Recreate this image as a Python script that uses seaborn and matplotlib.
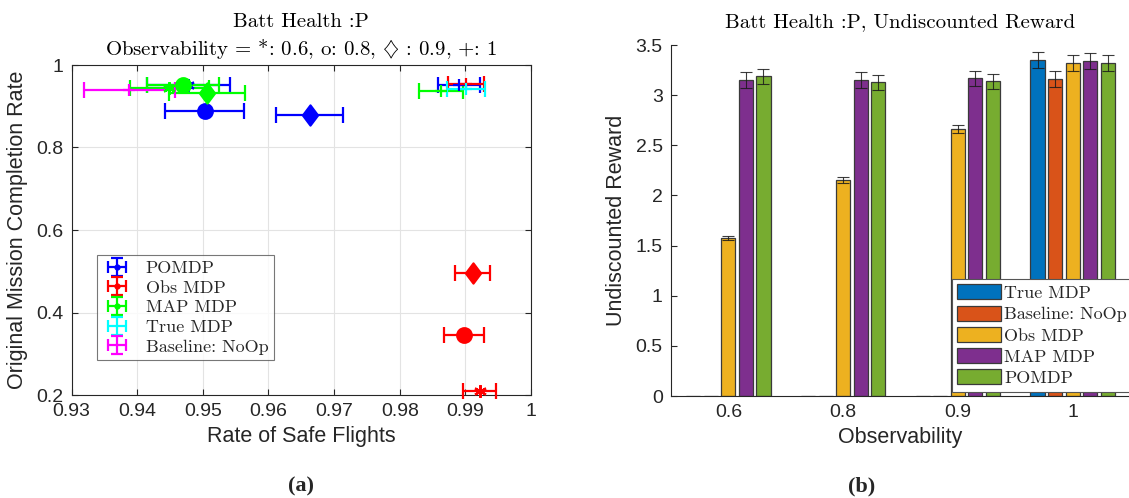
import numpy as np
import pandas as pd
import matplotlib
matplotlib.use("Agg")
import matplotlib.pyplot as plt
from matplotlib.path import Path
import seaborn as sns

# ---------------- data: left panel (a) ----------------
methods_a = ["POMDP", "Obs MDP", "MAP MDP", "True MDP", "Baseline: NoOp"]
colors_a = ["#0000FF", "#FF0000", "#00FF00", "#00FFFF", "#FF00FF"]
obs_levels = ["0.6", "0.8", "0.9", "1"]

pomdp_x = [0.9478, 0.9503, 0.9663, 0.9891]
pomdp_y = [0.952, 0.889, 0.879, 0.951]
pomdp_xerr = [0.0063, 0.0060, 0.0051, 0.0032]

obs_x = [0.9922, 0.9898, 0.9911, 0.9901]
obs_y = [0.209, 0.345, 0.495, 0.953]
obs_xerr = [0.0025, 0.0030, 0.0027, 0.0028]

map_x = [0.9449, 0.9470, 0.9506, 0.9863]
map_y = [0.944, 0.951, 0.932, 0.936]
map_xerr = [0.0060, 0.0055, 0.0058, 0.0034]

true_x = [0.9901]
true_y = [0.942]
true_xerr = [0.0029]
true_obs = ["1"]

base_x = [0.9388]
base_y = [0.939]
base_xerr = [0.0069]
base_obs = ["1"]

# ---------------- data: right panel (b) ----------------
obs_ticks = ["0.6", "0.8", "0.9", "1"]
methods_b = ["True MDP", "Baseline: NoOp", "Obs MDP", "MAP MDP", "POMDP"]
colors_b = ["#0072BD", "#D95319", "#EDB120", "#7E2F8E", "#77AC30"]
reward_true = [0.0, 0.0, 0.0, 3.347]
reward_base = [0.0, 0.0, 0.0, 3.163]
reward_obs = [1.575, 2.150, 2.660, 3.320]
reward_map = [3.150, 3.150, 3.167, 3.337]
reward_pomdp = [3.190, 3.128, 3.138, 3.320]
err_true = [0.0, 0.0, 0.0, 0.080]
err_base = [0.0, 0.0, 0.0, 0.078]
err_obs = [0.020, 0.030, 0.040, 0.077]
err_map = [0.077, 0.077, 0.077, 0.080]
err_pomdp = [0.075, 0.073, 0.077, 0.080]

# ---------------- style ----------------
sns.set_theme(style="white")
plt.rcParams["font.family"] = ["Liberation Sans", "DejaVu Sans"]
plt.rcParams["mathtext.fontset"] = "cm"
SERIF = ["cmr10", "DejaVu Serif"]
AXC = "#262626"

fig = plt.figure(figsize=(11.29, 4.98), dpi=100)
axA = fig.add_axes([71.5 / 1129, 1 - 395 / 498, 459.5 / 1129, 330 / 498])
axB = fig.add_axes([671 / 1129, 1 - 396 / 498, 459 / 1129, 351 / 498])

# ---------------- panel (a) ----------------
diamond = Path([(0, 1), (0.75, 0), (0, -1), (-0.75, 0), (0, 1)],
               [Path.MOVETO, Path.LINETO, Path.LINETO, Path.LINETO, Path.CLOSEPOLY])
mk = {"0.6": ((6, 2, 0), 9), "0.8": ("o", 10.5), "0.9": (diamond, 14.5), "1": ("+", 9)}

series_a = [
    (pomdp_x, pomdp_y, pomdp_xerr, obs_levels),
    (obs_x, obs_y, obs_xerr, obs_levels),
    (map_x, map_y, map_xerr, obs_levels),
    (true_x, true_y, true_xerr, true_obs),
    (base_x, base_y, base_xerr, base_obs),
]
for (xs, ys, xe, ob), c in zip(series_a, colors_a):
    for x, y, e, o in zip(xs, ys, xe, ob):
        m, ms = mk[o]
        axA.errorbar([x], [y], xerr=[e], fmt="none", ecolor=c, elinewidth=1.6,
                     capsize=5.5, capthick=1.6, zorder=3, clip_on=False)
        axA.plot([x], [y], marker=m, ms=ms, color=c, mfc=c, mec=c, mew=1.6,
                 ls="none", zorder=4, clip_on=False)

# legend handles (cross error bars)
handles = []
for i, (name, c) in enumerate(zip(methods_a, colors_a)):
    h = axA.errorbar([np.nan], [np.nan], xerr=[1], yerr=[1],
                     fmt="." if i < 3 else "none", color=c, ecolor=c, ms=7,
                     elinewidth=1.6, capsize=4, capthick=1.6)
    handles.append(h)
legA = axA.legend(handles, methods_a, loc="upper left",
                  bbox_to_anchor=(97 / 1129, 1 - 255 / 498), bbox_transform=fig.transFigure,
                  borderaxespad=0, prop={"family": SERIF, "size": 13},
                  frameon=True, fancybox=False, edgecolor="#555555",
                  handlelength=1.6, handletextpad=0.8, labelspacing=0.22,
                  borderpad=0.3)
legA.get_frame().set_linewidth(0.8)

axA.set_xlim(0.93, 1.0)
axA.set_ylim(0.2, 1.0)
axA.set_xticks([0.93, 0.94, 0.95, 0.96, 0.97, 0.98, 0.99, 1.0])
axA.set_xticklabels(["0.93", "0.94", "0.95", "0.96", "0.97", "0.98", "0.99", "1"])
axA.set_yticks([0.2, 0.4, 0.6, 0.8, 1.0])
axA.set_yticklabels(["0.2", "0.4", "0.6", "0.8", "1"])
axA.grid(True, color="#e3e3e3", lw=0.8)
axA.set_axisbelow(True)
axA.tick_params(direction="in", length=4, width=0.8, colors=AXC, labelsize=14,
                top=True, right=True, bottom=True, left=True, pad=6)
for s in axA.spines.values():
    s.set_color(AXC)
    s.set_linewidth(0.8)
axA.set_xlabel("Rate of Safe Flights", fontsize=15.5, color=AXC, labelpad=4)
axA.set_ylabel("Original Mission Completion Rate", fontsize=15.5, color=AXC, labelpad=6)
axA.set_title("Batt Health :P\nObservability = *: 0.6, o: 0.8, $\\diamondsuit$ : 0.9, +: 1",
              family=SERIF, fontsize=15, color="black", pad=7, linespacing=1.3)

# ---------------- panel (b) ----------------
values = [reward_true, reward_base, reward_obs, reward_map, reward_pomdp]
errs = [err_true, err_base, err_obs, err_map, err_pomdp]
df = pd.DataFrame({
    "Observability": [o for _ in methods_b for o in obs_ticks],
    "Method": [m for m in methods_b for _ in obs_ticks],
    "Reward": [v for vals in values for v in vals],
    "Err": [e for es in errs for e in es],
})
sns.barplot(data=df, x="Observability", y="Reward", hue="Method", order=obs_ticks,
            hue_order=methods_b, palette=colors_b, errorbar=None, width=0.765, gap=0.2,
            edgecolor="#3a3a3a", linewidth=0.9, saturation=1, ax=axB)

# error bars at the bar centres given by seaborn
for cont, m in zip(axB.containers, methods_b):
    sub = df[df["Method"] == m].set_index("Observability").loc[obs_ticks]
    xs = [p.get_x() + p.get_width() / 2 for p in cont.patches]
    ys = [p.get_height() for p in cont.patches]
    keep = [i for i, e in enumerate(sub["Err"].values) if e > 0]
    axB.errorbar([xs[i] for i in keep], [ys[i] for i in keep],
                 yerr=[sub["Err"].values[i] for i in keep], fmt="none",
                 ecolor="#1a1a1a", elinewidth=0.8, capsize=4.5, capthick=0.8,
                 alpha=0.85, zorder=5)

axB.set_xlim(-0.5, 3.5)
axB.set_ylim(0, 3.5)
axB.set_yticks([0, 0.5, 1, 1.5, 2, 2.5, 3, 3.5])
axB.set_yticklabels(["0", "0.5", "1", "1.5", "2", "2.5", "3", "3.5"])
axB.tick_params(direction="in", length=4, width=0.8, colors=AXC, labelsize=14,
                left=True, bottom=True, pad=6)
sns.despine(ax=axB)
for s in ["left", "bottom"]:
    axB.spines[s].set_color(AXC)
    axB.spines[s].set_linewidth(0.8)
axB.set_xlabel("Observability", fontsize=15.5, color=AXC, labelpad=4)
axB.set_ylabel("Undiscounted Reward", fontsize=15.5, color=AXC, labelpad=6)
axB.set_title("Batt Health :P, Undiscounted Reward", family=SERIF, fontsize=15,
              color="black", pad=13)
legB = axB.legend(loc="upper left", bbox_to_anchor=(952 / 1129, 1 - 279 / 498),
                  bbox_transform=fig.transFigure, borderaxespad=0,
                  prop={"family": SERIF, "size": 13}, frameon=True, fancybox=False,
                  edgecolor="#555555", handlelength=2.4, handleheight=0.9,
                  handletextpad=0.2, labelspacing=0.25, borderpad=0.3, title=None)
legB.get_frame().set_linewidth(0.8)
legB.get_frame().set_facecolor("white")
legB.get_frame().set_alpha(1)

# ---------------- panel captions ----------------
fig.text(301 / 1129, 1 - 486 / 498, "(a)", family=["Liberation Serif"], weight="bold",
         fontsize=16, ha="center", va="center")
fig.text(862 / 1129, 1 - 486 / 498, "(b)", family=["Liberation Serif"], weight="bold",
         fontsize=16, ha="center", va="center")

fig.savefig("out.png", dpi=100)
